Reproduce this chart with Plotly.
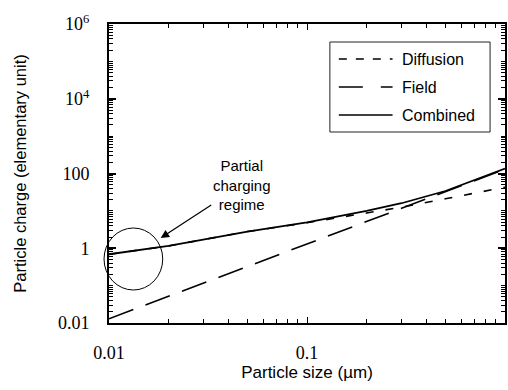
import plotly.graph_objects as go

# Particle diameters (µm) and the charge acquired by each mechanism
size_um = [0.01, 0.02, 0.05, 0.1, 0.2, 0.3, 0.5, 0.7, 1.0]
diffusion = [0.69, 1.15, 2.8, 4.8, 8.8, 12.5, 21, 30, 43]
field = [0.013, 0.052, 0.325, 1.3, 5.2, 11.7, 32.5, 63.7, 130]
combined = [0.69, 1.15, 2.8, 4.9, 10, 16, 34, 66, 135]

y_tick_vals = [0.01, 1, 100, 1e4, 1e6]
y_tick_text = ["0.01", "1", "100", "10<sup>4</sup>", "10<sup>6</sup>"]
x_tick_vals = [0.01, 0.1]
x_tick_text = ["0.01", "0.1"]

# plot-area geometry in pixels
W_FIG, H_FIG = 508, 390
L, R, T, B = 109, 507, 24, 323


def px(x):
    return (x - L) / (R - L)


def py(y):
    return (B - y) / (B - T)


def minor_vals(lo_exp, hi_exp, skip=()):
    vals = []
    for e in range(lo_exp, hi_exp):
        for m in range(1, 10):
            if m == 1 and e in skip:
                continue
            vals.append(m * 10 ** e)
    return vals


fig = go.Figure()
fig.add_trace(go.Scatter(x=size_um, y=field, mode="lines", name="Field",
                         line=dict(color="black", width=1.6, dash="26px,13px")))
fig.add_trace(go.Scatter(x=size_um, y=diffusion, mode="lines", name="Diffusion",
                         line=dict(color="black", width=1.6, dash="8px,12px")))
fig.add_trace(go.Scatter(x=size_um, y=combined, mode="lines", name="Combined",
                         line=dict(color="black", width=1.8)))

tick_font = dict(family="Liberation Serif", size=18, color="black")
sans = "Liberation Sans"

fig.update_xaxes(type="log", range=[-2, 0], showgrid=False, zeroline=False,
                 showline=True, linecolor="black", linewidth=2, mirror="ticks",
                 ticks="inside", ticklen=6, tickwidth=1.2, tickcolor="black",
                 tickvals=x_tick_vals, ticktext=x_tick_text, tickfont=tick_font,
                 ticklabelstandoff=12,
                 title=dict(text="Particle size (µm)", standoff=5,
                            font=dict(family=sans, size=17, color="black")),
                 minor=dict(ticks="inside", ticklen=4, tickwidth=1, tickcolor="black",
                            tickvals=minor_vals(-2, 0, skip=(-2, -1)), showgrid=False))
fig.update_yaxes(type="log", range=[-2, 6], showgrid=False, zeroline=False,
                 showline=True, linecolor="black", linewidth=2, mirror="ticks",
                 ticks="inside", ticklen=7, tickwidth=1.5, tickcolor="black",
                 tickvals=y_tick_vals, ticktext=y_tick_text, tickfont=tick_font,
                 ticklabelstandoff=14,
                 title=dict(text="Particle charge (elementary unit)", standoff=27,
                            font=dict(family=sans, size=16.5, color="black")),
                 minor=dict(ticks="inside", ticklen=4, tickwidth=1, tickcolor="black",
                            tickvals=minor_vals(-2, 6, skip=(-2, 0, 2, 4)), showgrid=False))

shapes = []
annotations = []

# legend box with line samples
shapes.append(dict(type="rect", xref="paper", yref="paper",
                   x0=px(331), x1=px(492), y0=py(132), y1=py(42),
                   line=dict(color="#222", width=1), fillcolor="white", layer="above"))
legend_rows = [("Diffusion", 59, "8px,9px"), ("Field", 87, "24px,18px"), ("Combined", 115, "solid")]
for label, yy, dash in legend_rows:
    shapes.append(dict(type="line", xref="paper", yref="paper",
                       x0=px(340), x1=px(394), y0=py(yy), y1=py(yy),
                       line=dict(color="black", width=1.6, dash=dash), layer="above"))
    annotations.append(dict(text=label, xref="paper", yref="paper", x=px(401), y=py(yy),
                            xanchor="left", yanchor="middle", showarrow=False,
                            font=dict(family=sans, size=16, color="black")))

# circled region near the smallest sizes
shapes.append(dict(type="circle", xref="paper", yref="paper",
                   x0=px(104), x1=px(163), y0=py(290), y1=py(228),
                   line=dict(color="black", width=1)))

# callout text with its arrow pointing at the circle
annotations.append(dict(text="Partial<br>charging<br>regime", xref="paper", yref="paper",
                        x=px(161), y=py(238), ax=81, ay=-53,
                        showarrow=True, arrowhead=2, arrowsize=1.4,
                        arrowwidth=1.2, arrowcolor="black", align="center",
                        font=dict(family=sans, size=15, color="black")))

fig.update_layout(width=W_FIG, height=H_FIG, showlegend=False,
                  margin=dict(l=L, r=W_FIG - R, t=T, b=H_FIG - B, pad=0),
                  paper_bgcolor="white", plot_bgcolor="white",
                  shapes=shapes, annotations=annotations)

fig.write_html("out.html")
